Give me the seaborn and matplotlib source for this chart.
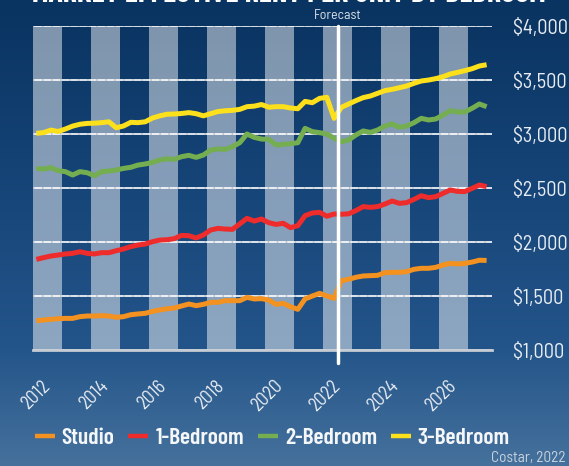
import numpy as np
import pandas as pd
import matplotlib
matplotlib.use("Agg")
import matplotlib.pyplot as plt
import seaborn as sns
from matplotlib.colors import LinearSegmentedColormap

# ---------------- data ----------------
quarters = pd.period_range("2012Q1", "2027Q3", freq="Q")

studio = [1272, 1278, 1284, 1290, 1293, 1293, 1309, 1315, 1315, 1318, 1315, 1303,
          1309, 1327, 1334, 1340, 1358, 1371, 1382, 1389, 1408, 1426, 1411, 1423,
          1442, 1442, 1457, 1457, 1457, 1488, 1473, 1476, 1463, 1423, 1432, 1401,
          1377, 1473, 1500, 1525, 1501, 1479, 1643, 1655, 1674, 1686, 1689, 1692,
          1717, 1720, 1720, 1726, 1748, 1757, 1757, 1766, 1788, 1803, 1797, 1803,
          1815, 1832, 1830]
bed1 = [1840, 1856, 1871, 1880, 1890, 1896, 1911, 1896, 1890, 1902, 1902, 1920,
        1936, 1958, 1973, 1982, 2004, 2019, 2022, 2032, 2062, 2059, 2038, 2066,
        2112, 2127, 2121, 2118, 2168, 2220, 2195, 2214, 2180, 2164, 2174, 2134,
        2152, 2245, 2270, 2276, 2240, 2260, 2258, 2262, 2292, 2329, 2322, 2329,
        2353, 2381, 2359, 2366, 2396, 2430, 2412, 2421, 2452, 2483, 2470, 2468,
        2498, 2529, 2514]
bed2 = [2683, 2677, 2690, 2662, 2653, 2622, 2653, 2643, 2615, 2653, 2659, 2668,
        2683, 2693, 2714, 2724, 2739, 2761, 2772, 2767, 2792, 2804, 2785, 2807,
        2853, 2863, 2859, 2884, 2921, 3002, 2971, 2955, 2952, 2900, 2906, 2912,
        2921, 3054, 3024, 3014, 3002, 2962, 2931, 2946, 2993, 3030, 3017, 3039,
        3076, 3095, 3064, 3076, 3107, 3147, 3132, 3141, 3178, 3218, 3206, 3206,
        3240, 3280, 3255]
bed3 = [3008, 3015, 3038, 3025, 3048, 3075, 3092, 3100, 3102, 3107, 3115, 3060,
        3076, 3110, 3107, 3115, 3150, 3170, 3185, 3187, 3192, 3200, 3190, 3170,
        3190, 3210, 3217, 3221, 3230, 3255, 3260, 3275, 3250, 3255, 3255, 3243,
        3236, 3304, 3292, 3332, 3342, 3147, 3249, 3280, 3311, 3339, 3354, 3379,
        3404, 3416, 3431, 3447, 3472, 3493, 3502, 3515, 3533, 3558, 3573, 3589,
        3607, 3632, 3644]

series_names = ["Studio", "1-Bedroom", "2-Bedroom", "3-Bedroom"]
series_colors = ["#f39220", "#ee2c2c", "#74ae50", "#fde01c"]
year_labels = ["2012", "2014", "2016", "2018", "2020", "2022", "2024", "2026"]
y_ticks = [1000, 1500, 2000, 2500, 3000, 3500, 4000]
y_tick_labels = ["$1,000", "$1,500", "$2,000", "$2,500", "$3,000", "$3,500", "$4,000"]
forecast_start = 2022.5
title = "MARKET EFFECTIVE RENT PER UNIT BY BEDROOM"
source = "Costar, 2022"

t = quarters.year + (quarters.quarter - 0.5) / 4.0
df = pd.DataFrame({
    "t": np.tile(np.asarray(t, dtype=float), 4),
    "rent": np.concatenate([studio, bed1, bed2, bed3]),
    "type": np.repeat(series_names, len(t)),
})

# ---------------- style ----------------
sns.set_theme(style="white")
FONT = ["Barlow Semi Condensed", "DejaVu Sans"]
FONT_B = ["Barlow Condensed", "DejaVu Sans"]
plt.rcParams["font.family"] = FONT

W, H = 569, 466
fig = plt.figure(figsize=(W / 100, H / 100), dpi=100)

# background gradient
bg = fig.add_axes([0, 0, 1, 1], zorder=-10)
cmap = LinearSegmentedColormap.from_list(
    "bg", [(0, "#093360"), (0.43, "#17467a"), (0.75, "#24558a"), (1, "#45719c")])
grad = np.linspace(0, 1, 256)[:, None]
bg.imshow(grad, aspect="auto", cmap=cmap, extent=[0, 1, 0, 1])
bg.axis("off")

x0, x1, ytop, ybot = 32.7, 491.7, 26.3, 350.0
ax = fig.add_axes([x0 / W, 1 - ybot / H, (x1 - x0) / W, (ybot - ytop) / H])
ax.patch.set_alpha(0)

# alternating light bands (even years)
for lbl in year_labels:
    yr = int(lbl)
    ax.axvspan(yr, yr + 1, color="white", alpha=0.48, lw=0, zorder=0)

sns.lineplot(data=df, x="t", y="rent", hue="type", hue_order=series_names,
             palette=series_colors, lw=3.6, ax=ax, zorder=2)
for ln in ax.lines:
    ln.set_solid_capstyle("butt")
    ln.set_solid_joinstyle("round")

ax.set_xlim(2012, 2027.8)
ax.set_ylim(1000, 4000)
ax.set_xlabel("")
ax.set_ylabel("")

# grid (white with faint grey quarter dots)
ax.set_yticks(y_ticks)
ax.set_yticklabels(y_tick_labels)
ax.set_axisbelow(True)
ax.grid(axis="y", color="white", lw=1.2)
ax.grid(axis="x", visible=False)
for yv in y_ticks[1:]:
    ax.axhline(yv, color="#b8c0c8", lw=1.3, ls=(0, (0.8, 4.2)), zorder=0.6)

for s in ["top", "left", "right"]:
    ax.spines[s].set_visible(False)
ax.spines["bottom"].set_color("#c5cbd3")
ax.spines["bottom"].set_linewidth(2)

# ticks
years = np.arange(2012, 2028)
ax.set_xticks(years)
ax.set_xticks(np.arange(2012, 2027.8, 0.25), minor=True)
ax.set_xticklabels([])
ax.tick_params(axis="x", which="major", direction="inout", length=7, width=1.2,
               color="#d0d4da")
ax.tick_params(axis="x", which="minor", direction="in", length=3, width=0.8,
               color="#c5cbd3")
ax.yaxis.tick_right()
ax.tick_params(axis="y", length=0, pad=15.5, labelsize=14.6, labelcolor="#e8edf3")

for lbl in year_labels:
    ax.annotate(lbl, xy=(int(lbl) + 0.72, 0), xycoords=("data", "axes fraction"),
                xytext=(0, -19.5), textcoords="offset points", rotation=45,
                ha="right", va="top", fontsize=13.5, color="#e8edf3")

# forecast divider
ax.axvline(forecast_start, ymin=-0.04, ymax=1, color="white", lw=2.5,
           clip_on=False, zorder=3)
ax.annotate("Forecast", xy=(forecast_start, 1), xycoords=("data", "axes fraction"),
            xytext=(0, 5), textcoords="offset points", ha="center", va="baseline",
            fontsize=10, color="#dde3ea")

# legend
handles, labels = ax.get_legend_handles_labels()
if ax.get_legend() is not None:
    ax.get_legend().remove()
leg = fig.legend(handles, labels, loc="center left",
                 bbox_to_anchor=(34.5 / W, 1 - 438 / H), ncol=4, frameon=False,
                 prop={"family": FONT_B, "size": 17, "weight": 600},
                 handlelength=0.85, handletextpad=0.3, columnspacing=0.58,
                 borderpad=0, borderaxespad=0)
for txt in leg.get_texts():
    txt.set_color("#f4f6f8")
for hl in leg.get_lines():
    hl.set_linewidth(3.2)
    hl.set_solid_capstyle("butt")

# title (cut off at top, as in the reference) and source
fig.text(288.5 / W, 1 - 2.0 / H, title, ha="center", va="baseline",
         fontsize=21.5, fontweight="bold", family=FONT_B, color="white")
fig.text(566 / W, 1 - 462 / H, source, ha="right", va="baseline",
         fontsize=11, color="#c9d3de")

fig.savefig("out.png", dpi=100)
